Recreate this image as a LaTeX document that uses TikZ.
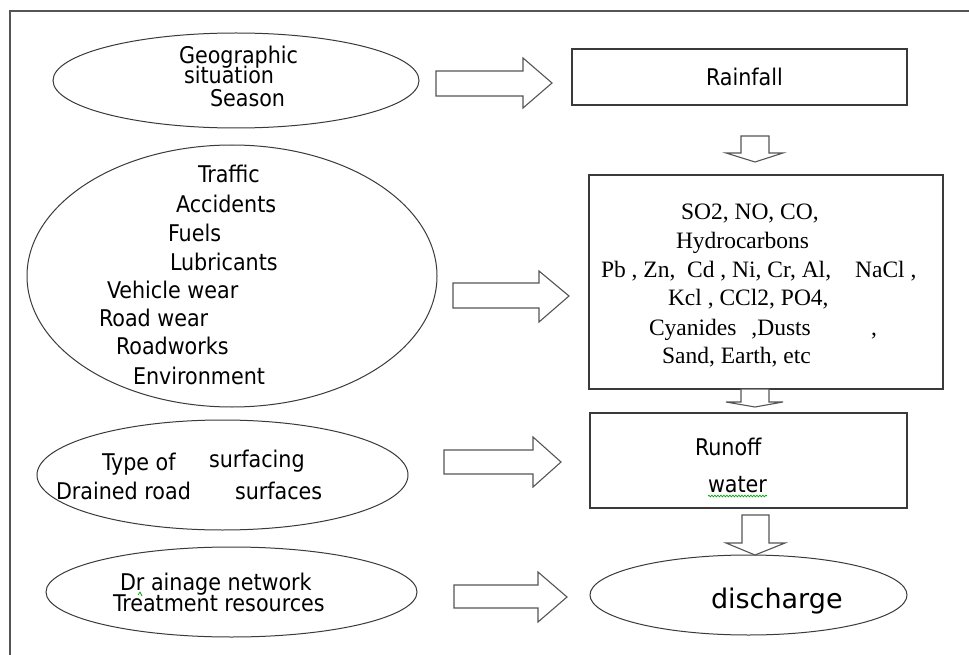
\documentclass[tikz,border=0pt]{standalone}
\usepackage{fontspec}
\usetikzlibrary{shapes.geometric,decorations.pathmorphing}
\newfontfamily\labelfont{DejaVu Sans Condensed}
\newfontfamily\widefont{DejaVu Sans}
\newfontfamily\chemfont{Liberation Serif}
\definecolor{linegray}{HTML}{3A3A3A}
\definecolor{arrowgray}{HTML}{555555}
\tikzset{
  frameline/.style={draw=arrowgray, line width=1.5pt},
  oval/.style={ellipse, draw=linegray, line width=1pt, inner sep=0pt, outer sep=0pt},
  boxnode/.style={rectangle, draw=linegray, line width=1.4pt, inner sep=0pt, outer sep=0pt},
  blockarrow/.style={draw=arrowgray, line width=1.1pt, fill=white, line join=miter},
  sanstxt/.style={anchor=base west, inner sep=0pt, outer sep=0pt, font=\labelfont\fontsize{23}{28}\selectfont},
  widetxt/.style={anchor=base west, inner sep=0pt, outer sep=0pt, font=\widefont\fontsize{27}{31}\selectfont},
  chemtxt/.style={anchor=base west, inner sep=0pt, outer sep=0pt, font=\chemfont\fontsize{23.5}{28}\selectfont},
  spellmark/.style={draw=green!65!black, line width=0.7pt},
}
\begin{document}
\begin{tikzpicture}[x=1pt,y=-1pt]
\useasboundingbox (0,0) rectangle (969,655);
\fill[white] (0,0) rectangle (969,655);

% outer frame (only top and left edges visible)
\coordinate (frTL) at (10,11);
\coordinate (frTR) at (969,11);
\coordinate (frBL) at (10,655);
\draw[frameline] (frTR) -- (frTL) -- (frBL);

% left ellipses
\node[oval, minimum width=366pt, minimum height=95pt] (geo) at (236,80.5) {};
\node[oval, minimum width=410pt, minimum height=262pt] (traffic) at (232,276) {};
\node[oval, minimum width=371pt, minimum height=110pt] (surf) at (222.5,475) {};
\node[oval, minimum width=371pt, minimum height=90pt] (drain) at (231.5,592) {};

% right boxes
\node[boxnode, minimum width=335pt, minimum height=56pt] (rain) at (739.5,77) {};
\node[boxnode, minimum width=354pt, minimum height=214pt] (poll) at (766,282) {};
\node[boxnode, minimum width=317pt, minimum height=95pt] (runoff) at (748.5,460.5) {};
\node[oval, minimum width=317pt, minimum height=80pt] (disch) at (748.5,595) {};

% texts of ellipse 1
\node[sanstxt] (tGeo) at (179,64) {Geographic};
\node[sanstxt] (tSit) at (184,84) {situation};
\node[sanstxt] (tSea) at (210,107) {Season};

% rainfall
\node[sanstxt] (tRain) at (706,86) {Rainfall};

% texts of ellipse 2
\node[sanstxt] (tTra) at (198,183) {Traffic};
\node[sanstxt] (tAcc) at (176,213) {Accidents};
\node[sanstxt] (tFue) at (168,241) {Fuels};
\node[sanstxt] (tLub) at (170,270) {Lubricants};
\node[sanstxt] (tVeh) at (107,298) {Vehicle wear};
\node[sanstxt] (tRoa) at (99,326) {Road wear};
\node[sanstxt] (tRwk) at (116,354) {Roadworks};
\node[sanstxt] (tEnv) at (133,384) {Environment};

% pollutant box
\node[chemtxt] (cA) at (681,220) {SO2, NO, CO,};
\node[chemtxt] (cB) at (676,248) {Hydrocarbons};
\node[chemtxt] (cC) at (601,277) {Pb , Zn,\ \ Cd , Ni, Cr, Al,\hspace{24pt}NaCl ,};
\node[chemtxt] (cD) at (668,305) {Kcl , CCl2, PO4,};
\node[chemtxt] (cE) at (649,335) {Cyanides\hspace{15pt},Dusts};
\node[chemtxt] (cEc) at (871,335) {,};
\node[chemtxt] (cF) at (662,363) {Sand, Earth, etc};

% texts of ellipse 3
\node[sanstxt] (tType) at (102,470) {Type of};
\node[sanstxt] (tSurfacing) at (209,467) {surfacing};
\node[sanstxt] (tDrained) at (56,499) {Drained road};
\node[sanstxt] (tSurfaces) at (235,499) {surfaces};

% runoff box
\node[sanstxt] (tRun) at (695,455) {Runoff};
\node[sanstxt] (tWat) at (708,492) {water};
\draw[spellmark, decorate, decoration={snake, amplitude=0.8pt, segment length=3pt}]
  ([yshift=-4pt]tWat.base west) -- ([yshift=-4pt]tWat.base east);

% texts of ellipse 4
\node[sanstxt] (tDr) at (120,590) {Dr ainage network};
\node[sanstxt] (tTreat) at (113,611) {Treatment resources};
\coordinate (drmark) at (140,592);
\draw[spellmark] ([xshift=-2pt,yshift=-3pt]drmark) -- (drmark) -- ([xshift=2pt,yshift=-4pt]drmark);

% discharge
\node[widetxt] (tDis) at (711,608) {discharge};

% right-pointing block arrows
\draw[blockarrow] (436,71) -- (523,71) -- (523,58) -- (552,83) -- (523,108) -- (523,96) -- (436,96) -- cycle;
\draw[blockarrow] (453,283) -- (539,283) -- (539,271) -- (569,296) -- (539,322) -- (539,308) -- (453,308) -- cycle;
\draw[blockarrow] (444,450) -- (533,450) -- (533,437) -- (561,462) -- (533,487) -- (533,474) -- (444,474) -- cycle;
\draw[blockarrow] (454,585) -- (538,585) -- (538,572) -- (567,597) -- (538,622) -- (538,608) -- (454,608) -- cycle;

% downward block arrows
\draw[blockarrow] (741,136) -- (769,136) -- (769,153) -- (783,153) -- (755,162) -- (726,153) -- (741,153) -- cycle;
\draw[blockarrow] (741,389) -- (769,389) -- (769,402) -- (783,402) -- (755,407) -- (726,402) -- (741,402) -- cycle;
\draw[blockarrow] (742,515) -- (769,515) -- (769,543) -- (785,543) -- (755,555) -- (726,543) -- (742,543) -- cycle;
\end{tikzpicture}
\end{document}
